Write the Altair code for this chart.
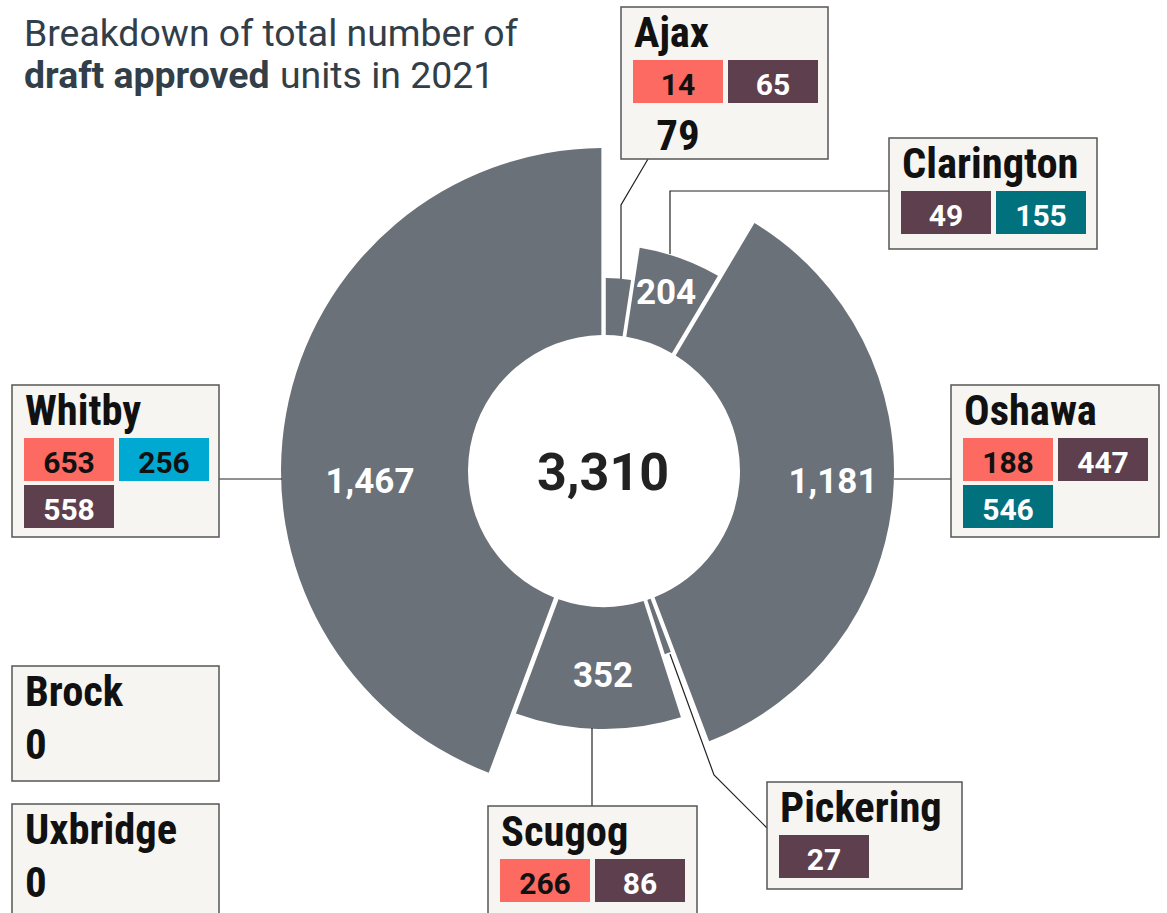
import altair as alt
import pandas as pd

W, H = 1167, 913

# ---------------- data ----------------
towns = ["Ajax", "Brock", "Clarington", "Oshawa", "Pickering", "Scugog", "Uxbridge", "Whitby"]
categories = ["Single-detached", "Semi-detached", "Townhouse", "Apartment"]
single_detached = [14, 0, 0, 188, 0, 266, 0, 653]
semi_detached = [0, 0, 0, 0, 0, 0, 0, 256]
townhouse = [65, 0, 49, 447, 27, 86, 0, 558]
apartment = [0, 0, 155, 546, 0, 0, 0, 0]
title_line1 = "Breakdown of total number of"
title_bold = "draft approved"
title_rest = "units in 2021"

# ---------------- styles / layout ----------------
CX, CY = 604, 471
INNER = 136
ARC_COLOR = "#6b7178"
TITLE_COLOR = "#323e48"
BOX_FILL = "#f6f5f1"
BOX_STROKE = "#555555"
CAT_COLORS = ["#fc6a61", "#00a9d1", "#5e3f4e", "#00717d"]
CAT_TEXT = ["#111111", "#111111", "#ffffff", "#ffffff"]
COND_FONT = "Liberation Sans Narrow, Roboto Condensed, Roboto"
FONT = "Roboto"

# radius scale breakpoints (value -> outer radius px)
R_DOMAIN = [0, 79, 204, 352, 1181, 1467]
R_RANGE = [193, 193, 226, 258, 290, 323]

# annotation boxes: x0, y0, w, h
BOXES = {
    "Ajax": (621, 7, 207, 152),
    "Clarington": (889, 138, 208, 111),
    "Oshawa": (951, 385, 208, 152),
    "Whitby": (12, 385, 207, 152),
    "Brock": (12, 666, 207, 115),
    "Uxbridge": (12, 804, 207, 130),
    "Scugog": (488, 806, 209, 130),
    "Pickering": (767, 782, 195, 107),
}
CELL_DX, CELL_DY, CELL_W, CELL_H, COL_STEP, ROW_STEP = 12, 53, 90, 43, 95, 47

# slice value labels: offset of (center x, baseline y) from pie centre
SLICE_LABEL = {
    "Clarington": (62, -167),
    "Oshawa": (229, 22),
    "Scugog": (-1, 216),
    "Whitby": (-234, 22),
}

CONNECTORS = {
    "Ajax": [(648, 159), (621, 205), (621, 279)],
    "Clarington": [(889, 191), (670, 191), (670, 254)],
    "Whitby": [(219, 479), (282, 479)],
    "Oshawa": [(894, 479), (951, 479)],
    "Scugog": [(592, 728), (592, 806)],
    "Pickering": [(670, 654), (714, 775), (767, 828)],
}

# ---------------- tables ----------------
series = [single_detached, semi_detached, townhouse, apartment]
totals = [sum(s[i] for s in series) for i in range(len(towns))]
grand_total = sum(totals)

arc_df = pd.DataFrame({"town": towns, "units": totals})
arc_df = arc_df[arc_df["units"] > 0]

box_rows, cell_rows, total_rows, title_rows = [], [], [], []
for i, t in enumerate(towns):
    bx, by, bw, bh = BOXES[t]
    box_rows.append({"town": t, "x": bx, "x2": bx + bw, "y": by, "y2": by + bh})
    title_rows.append({"town": t, "x": bx + 13, "y": by + 40})
    k = 0
    for c, s in zip(categories, series):
        v = s[i]
        if v <= 0:
            continue
        col, row = k % 2, k // 2
        x0 = bx + CELL_DX + col * COL_STEP
        y0 = by + CELL_DY + row * ROW_STEP
        cell_rows.append({"town": t, "cat": c, "value": v, "x": x0, "x2": x0 + CELL_W,
                          "y": y0, "y2": y0 + CELL_H, "tx": x0 + CELL_W / 2, "ty": y0 + 35})
        k += 1
    if t not in SLICE_LABEL and k != 1:
        if k == 0:
            total_rows.append({"town": t, "value": totals[i], "x": bx + 13, "y": by + 93, "anchor": "left"})
        else:
            col, row = k % 2, k // 2
            x0 = bx + CELL_DX + col * COL_STEP
            y0 = by + CELL_DY + row * ROW_STEP
            total_rows.append({"town": t, "value": totals[i], "x": x0 + CELL_W / 2, "y": y0 + 43, "anchor": "center"})

box_df = pd.DataFrame(box_rows)
cell_df = pd.DataFrame(cell_rows)
total_df = pd.DataFrame(total_rows)
title_df = pd.DataFrame(title_rows)

label_df = pd.DataFrame([
    {"town": t, "units": totals[towns.index(t)], "x": CX + dx, "y": CY + dy}
    for t, (dx, dy) in SLICE_LABEL.items()
])

conn_rows = []
for t, pts in CONNECTORS.items():
    for j, (px, py) in enumerate(pts):
        conn_rows.append({"town": t, "seq": j, "x": px, "y": py})
conn_df = pd.DataFrame(conn_rows)

# ---------------- encodings ----------------
XS = alt.Scale(domain=[0, W], range=[0, W])
YS = alt.Scale(domain=[0, H], range=[0, H])


def X(f):
    return alt.X(f, type="quantitative", scale=XS, axis=None)


def Y(f):
    return alt.Y(f, type="quantitative", scale=YS, axis=None)


arcs = alt.Chart(arc_df).mark_arc(innerRadius=INNER, padAngle=0.015, color=ARC_COLOR).encode(
    theta=alt.Theta("units:Q", stack=True),
    radius=alt.Radius("units:Q", scale=alt.Scale(type="linear", domain=R_DOMAIN, range=R_RANGE, zero=False)),
    order=alt.Order("town:N"),
    x=alt.value(CX),
    y=alt.value(CY),
)

slice_labels = alt.Chart(label_df).mark_text(
    font=FONT, fontSize=35, fontWeight="bold", color="white", align="center", baseline="alphabetic"
).encode(x=X("x"), y=Y("y"), text=alt.Text("units:Q", format=","))

center = alt.Chart(pd.DataFrame({"total": [grand_total], "x": [CX - 1], "y": [CY + 19]})).mark_text(
    font=FONT, fontSize=52, fontWeight="bold", color="#222222", align="center", baseline="alphabetic"
).encode(x=X("x"), y=Y("y"), text=alt.Text("total:Q", format=","))

connectors = alt.Chart(conn_df).mark_line(color="#222222", strokeWidth=1.2).encode(
    x=X("x"), y=Y("y"), detail="town:N", order="seq:Q"
)

boxes = alt.Chart(box_df).mark_rect(fill=BOX_FILL, stroke=BOX_STROKE, strokeWidth=1.5).encode(
    x=X("x"), x2="x2", y=Y("y"), y2="y2"
)

cells = alt.Chart(cell_df).mark_rect().encode(
    x=X("x"), x2="x2", y=Y("y"), y2="y2",
    fill=alt.Fill("cat:N", scale=alt.Scale(domain=categories, range=CAT_COLORS), legend=None),
)

cell_text = alt.Chart(cell_df).mark_text(
    font=FONT, fontSize=30, fontWeight="bold", align="center", baseline="alphabetic"
).encode(
    x=X("tx"), y=Y("ty"), text="value:Q",
    color=alt.Color("cat:N", scale=alt.Scale(domain=categories, range=CAT_TEXT), legend=None),
)

box_titles = alt.Chart(title_df).mark_text(
    font=COND_FONT, fontSize=42.5, fontWeight="bold", color="#111111", align="left", baseline="alphabetic"
).encode(x=X("x"), y=Y("y"), text="town:N")

totals_left = alt.Chart(total_df[total_df["anchor"] == "left"]).mark_text(
    font=COND_FONT, fontSize=43, fontWeight="bold", color="#111111", align="left", baseline="alphabetic"
).encode(x=X("x"), y=Y("y"), text="value:Q")

totals_center = alt.Chart(total_df[total_df["anchor"] == "center"]).mark_text(
    font=COND_FONT, fontSize=43, fontWeight="bold", color="#111111", align="center", baseline="alphabetic"
).encode(x=X("x"), y=Y("y"), text="value:Q")

title_df2 = pd.DataFrame([
    {"t": title_line1, "x": 24, "y": 46, "w": "normal"},
    {"t": title_bold, "x": 24, "y": 88, "w": "bold"},
    {"t": title_rest, "x": 280, "y": 88, "w": "normal"},
])
title_norm = alt.Chart(title_df2[title_df2["w"] == "normal"]).mark_text(
    font=FONT, fontSize=37.4, color=TITLE_COLOR, align="left", baseline="alphabetic"
).encode(x=X("x"), y=Y("y"), text="t:N")
title_b = alt.Chart(title_df2[title_df2["w"] == "bold"]).mark_text(
    font=FONT, fontSize=37.4, fontWeight="bold", color=TITLE_COLOR, align="left", baseline="alphabetic"
).encode(x=X("x"), y=Y("y"), text="t:N")

chart = alt.layer(
    arcs, slice_labels, center, connectors, boxes, cells, cell_text,
    box_titles, totals_left, totals_center, title_norm, title_b,
).properties(
    width=W, height=H, padding=0, autosize=alt.AutoSizeParams(type="none"), background="white"
).configure_view(stroke=None)

chart.save("out.html", embed_options={"renderer": "svg", "actions": False})
